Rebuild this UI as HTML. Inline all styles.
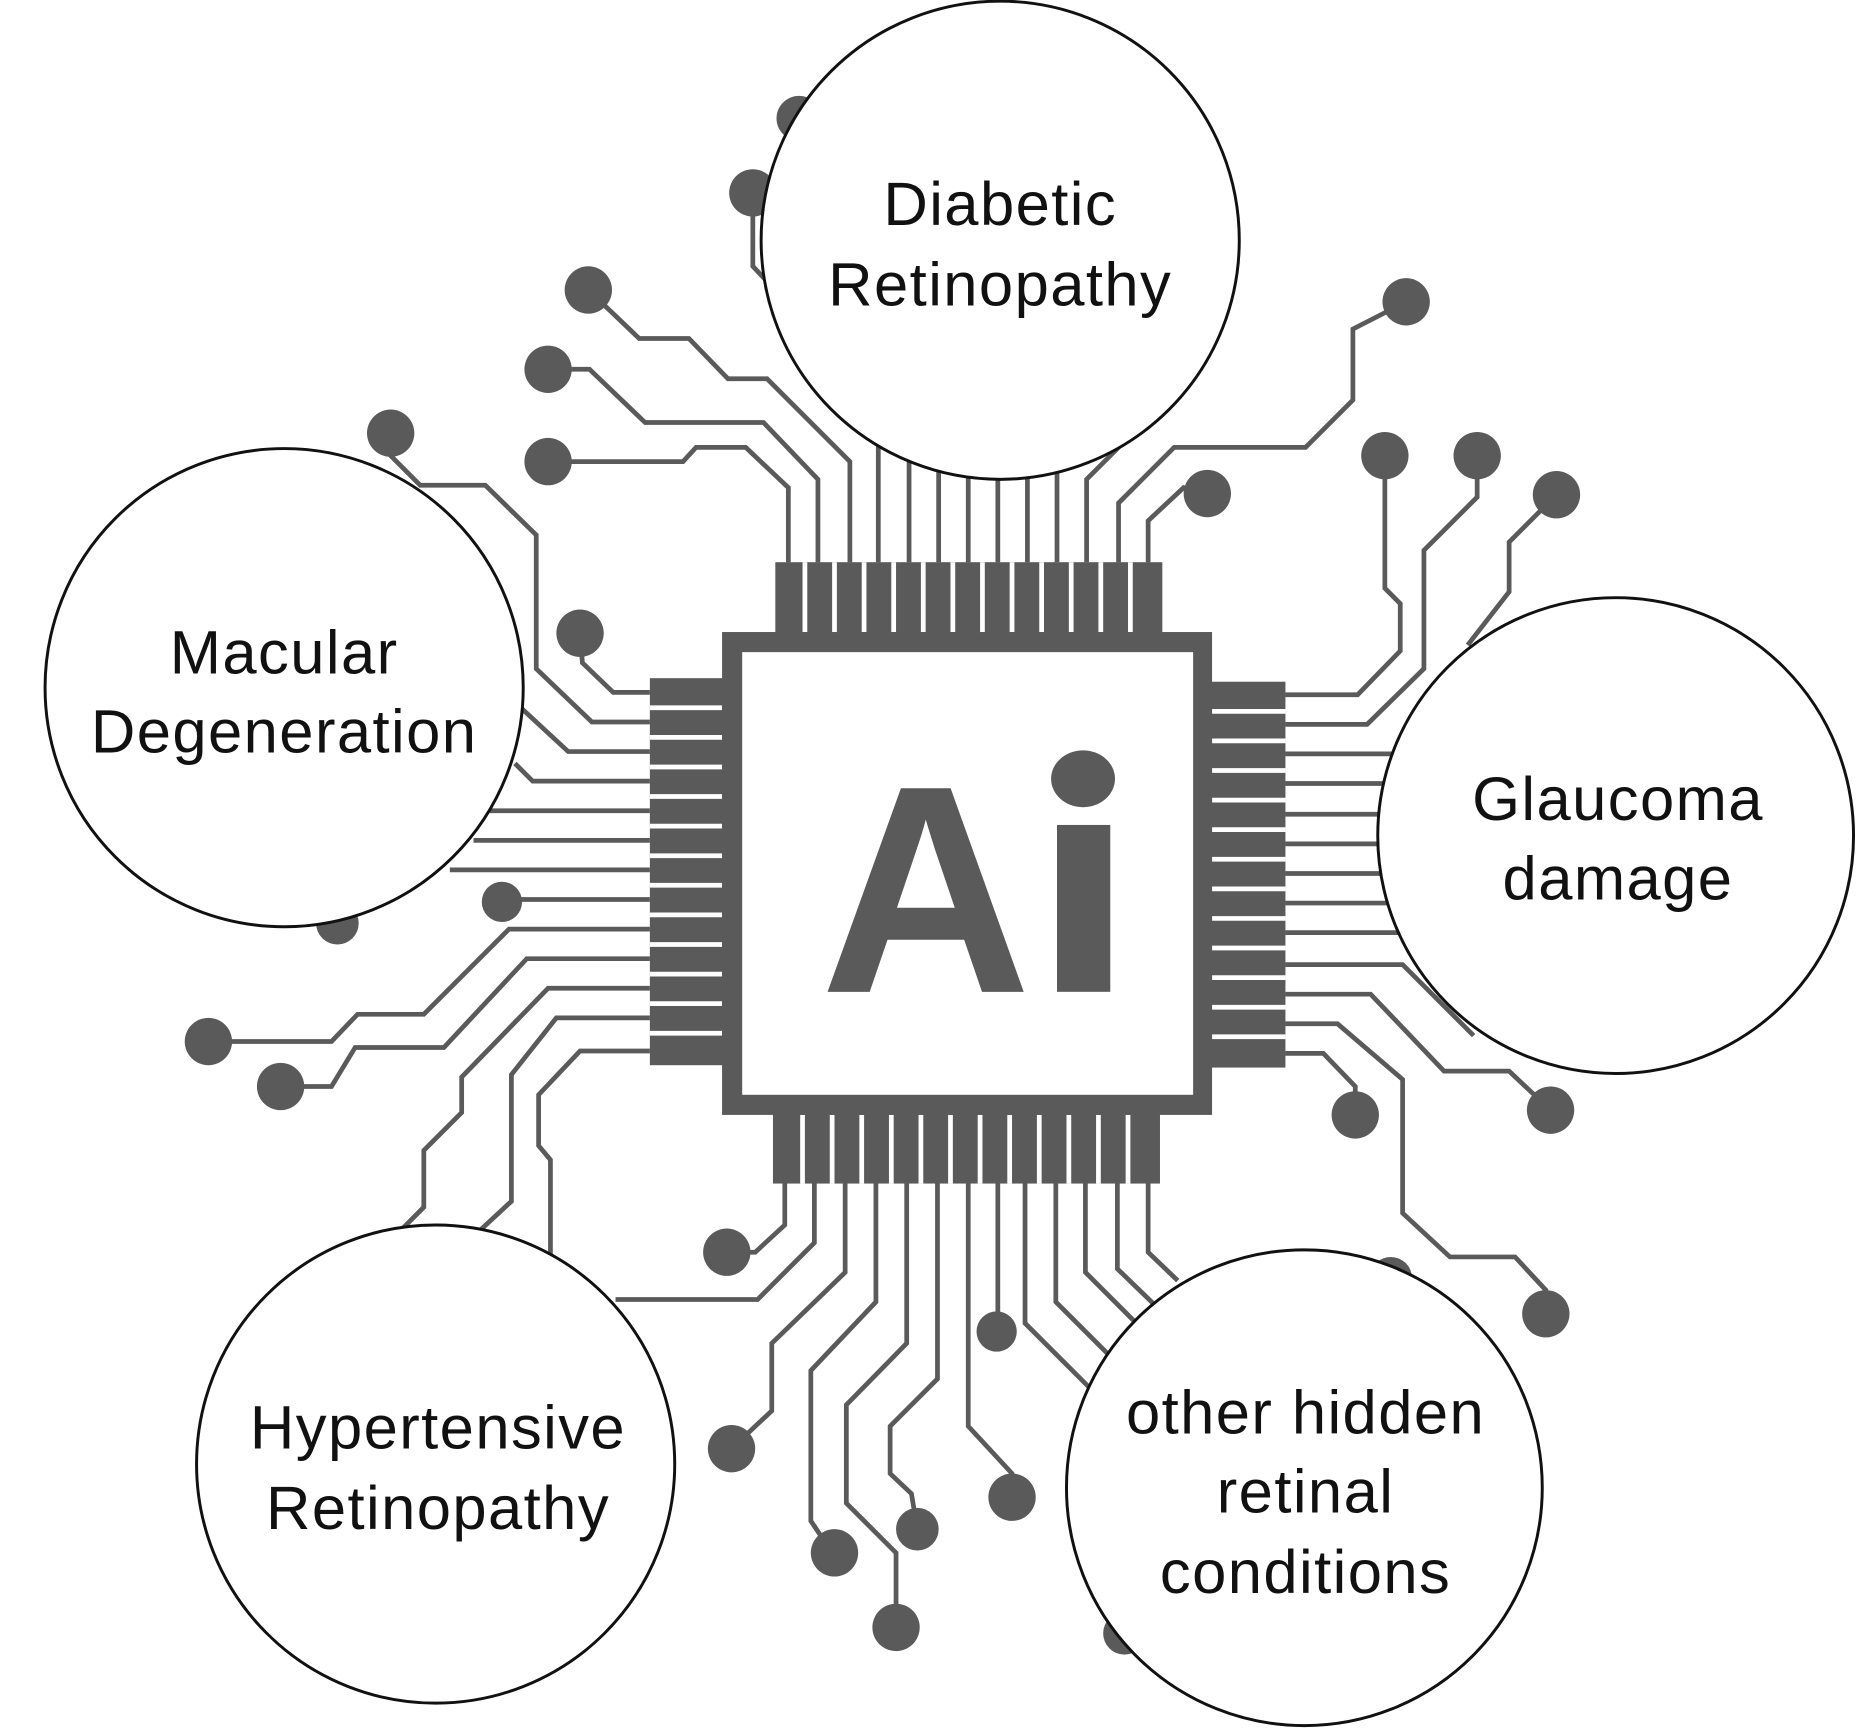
<!DOCTYPE html>
<html><head><meta charset="utf-8"><style>
html,body{margin:0;padding:0;background:#fff;}
svg{display:block;}
text{font-family:"Liberation Sans",sans-serif;}
</style></head><body>
<svg width="1856" height="1728" viewBox="0 0 1568 1460" xmlns="http://www.w3.org/2000/svg">
<rect width="1568" height="1460" fill="#fff"/>
<g fill="none" stroke="#5a5a5a" stroke-width="4" stroke-linejoin="miter">
<polyline points="666,475 666,412 630,378 588,378 577,390 463,390"/>
<polyline points="691,475 691,405 645,357 545,357 498,312 463,312"/>
<polyline points="718,475 718,390 648,320 615,320 582,286 540,286 497,245"/>
<polyline points="742,475 742,300"/><polyline points="768,475 768,300"/><polyline points="793,475 793,300"/>
<polyline points="818,475 818,300"/><polyline points="843,475 843,300"/><polyline points="868,475 868,300"/>
<polyline points="893,475 893,300"/><polyline points="918,475 918,405 960,363"/>
<polyline points="945,475 945,425 992,378 1103,378 1143,338 1143,278 1188,255"/>
<polyline points="970,475 970,440 1000,412 1020,417"/>
<polyline points="636,163 636,225 652,242"/>
<polyline points="675,100 690,120"/>
<polyline points="1086,587 1147,587 1183,550 1183,510 1170,497 1170,385"/>
<polyline points="1086,612 1155,612 1203,565 1203,465 1248,420 1248,385"/>
<polyline points="1086,637 1190,637"/>
<polyline points="1240,545 1275,500 1275,458 1315,418"/>
<polyline points="1086,662 1190,662"/><polyline points="1086,688 1190,688"/><polyline points="1086,713 1190,713"/>
<polyline points="1086,738 1190,738"/><polyline points="1086,763 1190,763"/><polyline points="1086,788 1190,788"/>
<polyline points="1086,815 1185,815 1245,875"/>
<polyline points="1086,840 1158,840 1220,905 1275,905 1310,938"/>
<polyline points="1086,865 1130,865 1185,912 1185,1025 1225,1062 1280,1062 1306,1090 1306,1110"/>
<polyline points="1086,890 1118,890 1145,918 1145,942"/>
<polyline points="549,585 518,585 492,560 490,535"/>
<polyline points="549,610 500,610 453,565 453,452 410,410 355,410 330,385 330,366"/>
<polyline points="549,635 480,635 440,598"/>
<polyline points="549,660 450,660 435,645"/>
<polyline points="549,685 400,685"/><polyline points="549,710 400,710"/><polyline points="549,735 380,735"/>
<polyline points="549,760 424,760"/>
<polyline points="549,785 430,785 358,857 302,857 280,880 176,880"/>
<polyline points="549,810 445,810 375,885 300,885 280,918 237,918"/>
<polyline points="549,835 463,835 390,910 390,940 358,972 358,1020 340,1038"/>
<polyline points="549,860 470,860 432,908 432,1015 405,1040"/>
<polyline points="549,888 490,888 455,925 455,968 465,980 465,1060"/>
<polyline points="663,1000 663,1035 638,1058 614,1058"/>
<polyline points="688,1000 688,1050 640,1098 520,1098"/>
<polyline points="714,1000 714,1075 652,1135 652,1192 620,1222"/>
<polyline points="740,1000 740,1100 685,1158 685,1285 703,1312"/>
<polyline points="766,1000 766,1135 715,1187 715,1270 757,1312 757,1375"/>
<polyline points="792,1000 792,1165 752,1205 752,1245 770,1262 775,1292"/>
<polyline points="818,1000 818,1205 855,1245 855,1265"/>
<polyline points="843,1000 843,1125"/>
<polyline points="866,1000 866,1118 920,1172"/>
<polyline points="892,1000 892,1100 940,1148"/>
<polyline points="917,1000 917,1075 960,1118"/>
<polyline points="944,1000 944,1072 975,1102"/>
<polyline points="970,1000 970,1058 995,1082"/>
</g>
<g fill="#5a5a5a">
<circle cx="463" cy="390" r="20"/><circle cx="463" cy="312" r="20"/><circle cx="497" cy="245" r="20"/>
<circle cx="675" cy="100" r="19"/><circle cx="636" cy="163" r="20"/>
<circle cx="1188" cy="255" r="20"/><circle cx="1020" cy="417" r="20"/>
<circle cx="1170" cy="385" r="20"/><circle cx="1248" cy="385" r="20"/><circle cx="1315" cy="418" r="20"/>
<circle cx="1310" cy="938" r="20"/><circle cx="1306" cy="1110" r="20"/><circle cx="1145" cy="942" r="20"/>
<circle cx="1175" cy="1080" r="18"/>
<circle cx="490" cy="535" r="20"/><circle cx="330" cy="366" r="20"/><circle cx="424" cy="762" r="17"/>
<circle cx="176" cy="880" r="20"/><circle cx="237" cy="918" r="20"/><circle cx="285" cy="780" r="18"/>
<circle cx="614" cy="1058" r="20"/><circle cx="618" cy="1224" r="20"/><circle cx="705" cy="1312" r="20"/>
<circle cx="757" cy="1375" r="20"/><circle cx="775" cy="1292" r="18"/><circle cx="855" cy="1265" r="20"/>
<circle cx="842" cy="1125" r="17"/><circle cx="950" cy="1380" r="18"/>
</g>
<g fill="#5a5a5a">
<rect x="655" y="475" width="327" height="62"/>
<rect x="653" y="940" width="327" height="60"/>
<rect x="549" y="573" width="63" height="327"/>
<rect x="1022" y="576" width="64" height="326"/>
</g>
<g stroke="#fff" stroke-width="4">
<path d="M680,475V535M705,475V535M730,475V535M755,475V535M780,475V535M805,475V535M830,475V535M855,475V535M880,475V535M905,475V535M930,475V535M955,475V535"/>
<path d="M678,942V1000M703,942V1000M728,942V1000M753,942V1000M778,942V1000M803,942V1000M828,942V1000M853,942V1000M878,942V1000M903,942V1000M928,942V1000M953,942V1000"/>
<path d="M549,598H610M549,623H610M549,648H610M549,673H610M549,698H610M549,723H610M549,748H610M549,773H610M549,798H610M549,823H610M549,848H610M549,873H610"/>
<path d="M1024,601H1086M1024,626H1086M1024,651H1086M1024,676H1086M1024,701H1086M1024,726H1086M1024,751H1086M1024,776H1086M1024,801H1086M1024,826H1086M1024,851H1086M1024,876H1086"/>
</g>
<rect x="610" y="534" width="414" height="408" fill="#5a5a5a"/>
<rect x="627" y="551" width="381" height="374" fill="#fff"/>
<text x="693" y="838" font-size="250" font-weight="bold" fill="#5a5a5a" textLength="247" lengthAdjust="spacingAndGlyphs">Ai</text>
<rect x="872" y="640" width="70" height="205" fill="#fff"/>
<rect x="893" y="697" width="45" height="141" fill="#5a5a5a"/>
<ellipse cx="915" cy="658" rx="27" ry="24" fill="#5a5a5a"/>
<g fill="#fff" stroke="#111" stroke-width="2.5">
<circle cx="845" cy="203" r="202"/>
<circle cx="240" cy="581" r="202"/>
<circle cx="1365" cy="706" r="201"/>
<circle cx="368" cy="1237" r="202"/>
<circle cx="1102" cy="1257" r="201"/>
</g>
<g font-size="52" fill="#111" text-anchor="middle" letter-spacing="1.2">
<text x="845" y="190">Diabetic</text><text x="845" y="258">Retinopathy</text>
<text x="240" y="569">Macular</text><text x="240" y="636">Degeneration</text>
<text x="1367" y="693">Glaucoma</text><text x="1367" y="760">damage</text>
<text x="370" y="1224">Hypertensive</text><text x="370" y="1292">Retinopathy</text>
<text x="1103" y="1211">other hidden</text><text x="1103" y="1278">retinal</text><text x="1103" y="1346">conditions</text>
</g>
</svg>
</body></html>
